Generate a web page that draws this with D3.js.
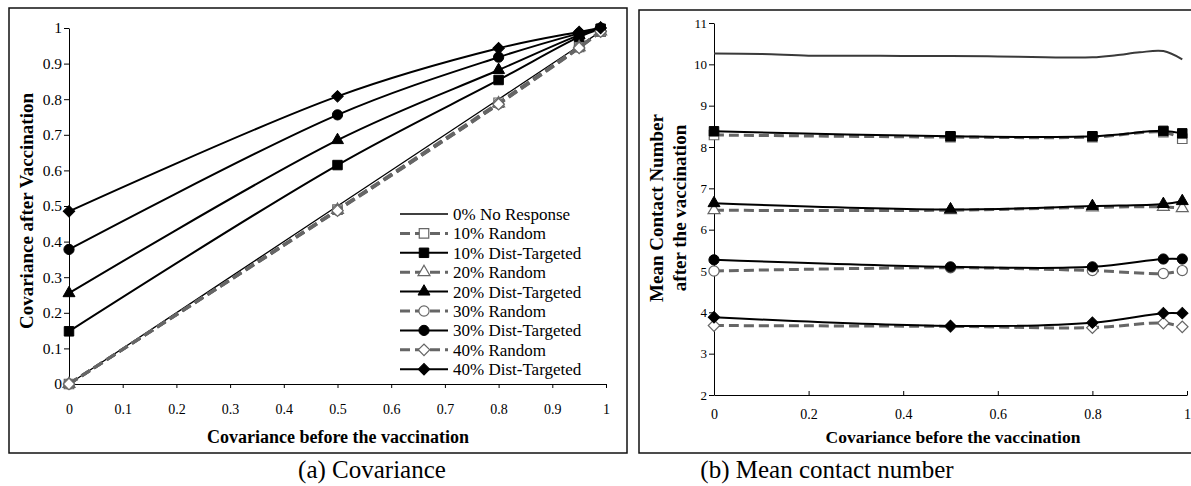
<!DOCTYPE html>
<html>
<head>
<meta charset="utf-8">
<script src="https://cdn.jsdelivr.net/npm/d3@7"></script>
<style>
  body { margin: 0; background: #fff; }
  svg, svg text { font-family: "Liberation Serif", "Times New Roman", "DejaVu Serif", serif; }
</style>
</head>
<body>
<div id="chart"></div>
<script>
// x values where the markers sit (both panels)
var covBefore = [0, 0.5, 0.8, 0.95, 0.99];

// (a) covariance after vaccination
var covNoResponse  = [0, 0.5, 0.8, 0.95, 0.99];
var covRandom10    = [0, 0.490, 0.790, 0.947, 0.990];
var covTargeted10  = [0.148, 0.615, 0.854, 0.975, 0.998];
var covRandom20    = [0, 0.489, 0.788, 0.946, 0.990];
var covTargeted20  = [0.255, 0.685, 0.882, 0.980, 0.999];
var covRandom30    = [0, 0.488, 0.787, 0.945, 0.990];
var covTargeted30  = [0.378, 0.756, 0.918, 0.985, 1.000];
var covRandom40    = [0, 0.487, 0.786, 0.944, 0.990];
var covTargeted40  = [0.485, 0.808, 0.943, 0.989, 1.000];

// (b) mean contact number after vaccination
var noRespX       = [0, 0.1, 0.2, 0.3, 0.4, 0.5, 0.6, 0.7, 0.8, 0.85, 0.9, 0.95, 0.99];
var mcnNoResponse = [10.26, 10.25, 10.21, 10.21, 10.20, 10.20, 10.19, 10.17, 10.17, 10.22, 10.29, 10.32, 10.12];
var mcnRandom10   = [8.29, 8.24, 8.24, 8.36, 8.20];
var mcnTargeted10 = [8.38, 8.26, 8.26, 8.39, 8.33];
var mcnRandom20   = [6.47, 6.47, 6.54, 6.55, 6.52];
var mcnTargeted20 = [6.64, 6.49, 6.57, 6.62, 6.69];
var mcnRandom30   = [5.00, 5.08, 5.01, 4.94, 5.01];
var mcnTargeted30 = [5.27, 5.10, 5.10, 5.29, 5.29];
var mcnRandom40   = [3.68, 3.66, 3.63, 3.74, 3.65];
var mcnTargeted40 = [3.88, 3.67, 3.75, 3.98, 3.98];

var seriesNames = ["0% No Response", "10% Random", "10% Dist-Targeted", "20% Random", "20% Dist-Targeted",
                   "30% Random", "30% Dist-Targeted", "40% Random", "40% Dist-Targeted"];

var xTicksA = [0, 0.1, 0.2, 0.3, 0.4, 0.5, 0.6, 0.7, 0.8, 0.9, 1];
var yTicksA = [0, 0.1, 0.2, 0.3, 0.4, 0.5, 0.6, 0.7, 0.8, 0.9, 1];
var xTicksB = [0, 0.2, 0.4, 0.6, 0.8, 1];
var yTicksB = [2, 3, 4, 5, 6, 7, 8, 9, 10, 11];

var GREY = "#666666";
var SERIF = "'Liberation Serif', 'Times New Roman', 'DejaVu Serif', serif";

// style of each series, by its position: kind (none/random/targeted) and marker
function styleFor(i){
    var shapes = [null, "square", "square", "triangle", "triangle", "circle", "circle", "diamond", "diamond"];
    var kind = i === 0 ? "none" : (i % 2 === 1 ? "random" : "targeted");
    return { kind: kind, shape: shapes[i] };
}

function markerPath(shape){
    if( shape === "square" ) return d3.symbol().type(d3.symbolSquare).size(90)();
    if( shape === "triangle" ) return d3.symbol().type(d3.symbolTriangle).size(62)();
    if( shape === "circle" ) return d3.symbol().type(d3.symbolCircle).size(82)();
    return d3.symbol().type(d3.symbolSquare).size(66)();   // rotated below -> diamond
}

function drawMarker(g, shape, kind, x, y){
    if( !shape ) return;
    g.append("path")
        .attr("d", markerPath(shape))
        .attr("transform", "translate(" + x + "," + y + ")" + (shape === "diamond" ? " rotate(45)" : ""))
        .attr("fill", kind === "random" ? "#fff" : "#000")
        .attr("stroke", kind === "random" ? GREY : "#000")
        .attr("stroke-width", kind === "random" ? 1.2 : 1);
}

function lineStyle(sel, kind, panel){
    if( kind === "random" ){
        sel.attr("stroke", GREY).attr("stroke-width", 3).attr("stroke-dasharray", "10,5");
    }else if( kind === "targeted" ){
        sel.attr("stroke", "#000").attr("stroke-width", 2);
    }else{
        sel.attr("stroke", panel === "b" ? "#3a3a3a" : "#000").attr("stroke-width", panel === "b" ? 2 : 1.3);
    }
}

function styleAxis(g, size){
    g.attr("font-family", null).attr("font-size", null)
        .style("font-family", SERIF)
        .style("font-size", size + "px");
    g.selectAll("text").attr("fill", "#000");
    g.selectAll("line, path").attr("stroke", "#000");
}

var svg = d3.select("#chart").append("svg")
    .attr("width", 1191)
    .attr("height", 486)
    .style("font-family", SERIF);

// frames
svg.append("rect").attr("x", 9).attr("y", 8).attr("width", 618).attr("height", 445)
    .attr("fill", "none").attr("stroke", "#111").attr("stroke-width", 1.5);
svg.append("rect").attr("x", 639).attr("y", 10).attr("width", 570).attr("height", 443)
    .attr("fill", "none").attr("stroke", "#111").attr("stroke-width", 1.5);

/**
* Draws one panel
*/
function drawPanel(p){
    var g = svg.append("g");
    var x = d3.scaleLinear().domain(p.xDomain).range(p.xRange);
    var y = d3.scaleLinear().domain(p.yDomain).range(p.yRange);
    var fmt = d3.format("~g");

    var yAxis = g.append("g")
        .attr("transform", "translate(" + p.xRange[0] + ",0)")
        .call(d3.axisLeft(y).tickValues(p.yTicks).tickFormat(fmt).tickSizeInner(5).tickSizeOuter(0).tickPadding(2));
    styleAxis(yAxis, p.yFont);

    var xAxis = g.append("g")
        .attr("transform", "translate(0," + p.yRange[0] + ")")
        .call(d3.axisBottom(x).tickValues(p.xTicks).tickFormat(fmt).tickSizeInner(p.xTickSize).tickSizeOuter(0).tickPadding(p.xPad));
    styleAxis(xAxis, p.xFont);

    var line = d3.line()
        .x(function(d){ return x(d[0]); })
        .y(function(d){ return y(d[1]); })
        .curve(d3.curveCatmullRom.alpha(0.5));

    p.series.forEach(function(vals, i){
        var st = styleFor(i);
        var xs = (i === 0 && p.noRespX) ? p.noRespX : covBefore;
        var pts = xs.map(function(v, j){ return [v, vals[j]]; });
        g.append("path")
            .attr("d", line(pts))
            .attr("fill", "none")
            .call(lineStyle, st.kind, p.name);
        pts.forEach(function(pt){
            drawMarker(g, st.shape, st.kind, x(pt[0]), y(pt[1]));
        });
    });

    g.append("text")
        .attr("x", p.xTitle[0]).attr("y", p.xTitle[1])
        .attr("text-anchor", "middle")
        .style("font-weight", "bold").style("font-size", p.xTitle[2] + "px")
        .text("Covariance before the vaccination");

    p.yTitle.forEach(function(t){
        g.append("text")
            .attr("transform", "translate(" + t[1] + "," + t[2] + ") rotate(-90)")
            .attr("text-anchor", "middle")
            .style("font-weight", "bold").style("font-size", "19px")
            .text(t[0]);
    });
    return g;
}

var gA = drawPanel({
    name: "a",
    xDomain: [0, 1], xRange: [69, 606],
    yDomain: [0, 1], yRange: [384, 28],
    xTicks: xTicksA, yTicks: yTicksA,
    xFont: 14, yFont: 15.5, xTickSize: 4, xPad: 16,
    series: [covNoResponse, covRandom10, covTargeted10, covRandom20, covTargeted20,
             covRandom30, covTargeted30, covRandom40, covTargeted40],
    xTitle: [338, 443, 18],
    yTitle: [["Covariance after Vaccination", 33, 211]]
});

drawPanel({
    name: "b",
    xDomain: [0, 1], xRange: [714, 1187],
    yDomain: [2, 11], yRange: [395, 23],
    xTicks: xTicksB, yTicks: yTicksB,
    xFont: 14, yFont: 13, xTickSize: -4, xPad: 14,
    noRespX: noRespX,
    series: [mcnNoResponse, mcnRandom10, mcnTargeted10, mcnRandom20, mcnTargeted20,
             mcnRandom30, mcnTargeted30, mcnRandom40, mcnTargeted40],
    xTitle: [953, 443, 17.5],
    yTitle: [["Mean Contact Number", 663, 208], ["after the vaccination", 686, 208]]
});

// legend of panel (a)
var legend = gA.append("g");
seriesNames.forEach(function(name, i){
    var st = styleFor(i);
    var ly = 214 + i * 19.4;
    legend.append("line")
        .attr("x1", 400).attr("x2", 448).attr("y1", ly).attr("y2", ly)
        .call(lineStyle, st.kind, "legend");
    drawMarker(legend, st.shape, st.kind, 424, ly);
    legend.append("text")
        .attr("x", 453).attr("y", ly + 6)
        .style("font-size", "17px")
        .text(name);
});

// captions
svg.append("text").attr("x", 372).attr("y", 478).attr("text-anchor", "middle")
    .style("font-size", "25px").text("(a) Covariance");
svg.append("text").attr("x", 827).attr("y", 478).attr("text-anchor", "middle")
    .style("font-size", "25px").text("(b) Mean contact number");
</script>
</body>
</html>
